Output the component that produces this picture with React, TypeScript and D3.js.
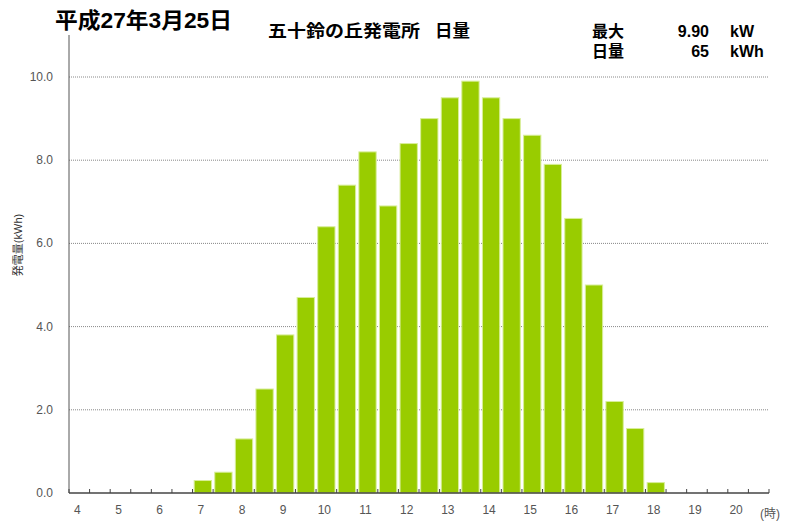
import React, { useEffect, useRef } from 'react';
import * as d3 from 'd3';

// half-hour slots from 4:00 to 20:30
const slots: number[] = d3.range(4, 21, 0.5);
const hourLabels: number[] = d3.range(4, 21);
// kW per half-hour slot (only slots with output)
const outputSlots: number[] = [7, 7.5, 8, 8.5, 9, 9.5, 10, 10.5, 11, 11.5, 12, 12.5, 13, 13.5, 14, 14.5, 15, 15.5, 16, 16.5, 17, 17.5, 18];
const outputValues: number[] = [0.3, 0.5, 1.3, 2.5, 3.8, 4.7, 6.4, 7.4, 8.2, 6.9, 8.4, 9.0, 9.5, 9.9, 9.5, 9.0, 8.6, 7.9, 6.6, 5.0, 2.2, 1.55, 0.25];
const yTicks: number[] = [0, 2, 4, 6, 8, 10];

const App = () => {
  const ref = useRef<SVGSVGElement>(null);

  useEffect(() => {
    const svg = d3.select(ref.current);
    svg.selectAll('*').remove();

    const left = 69, right = 769, top = 35, bottom = 493;
    const font = '"Liberation Sans", "Noto Sans CJK JP", sans-serif';

    const x = d3.scaleBand<number>().domain(slots).range([left, right]).paddingInner(0.16).paddingOuter(0.08);
    const xSlot = d3.scaleBand<number>().domain(slots).range([left, right]);
    const y = d3.scaleLinear().domain([0, 10]).range([bottom, 77]);

    // gridlines
    svg.append('g')
      .selectAll('line')
      .data(yTicks.filter(d => d > 0))
      .enter()
      .append('line')
      .attr('x1', left).attr('x2', right)
      .attr('y1', d => y(d)).attr('y2', d => y(d))
      .attr('stroke', '#888').attr('stroke-width', 1).attr('stroke-dasharray', '1,1');

    // y labels
    svg.append('g')
      .selectAll('text')
      .data(yTicks)
      .enter()
      .append('text')
      .attr('x', 53).attr('y', d => y(d) + 4)
      .attr('text-anchor', 'end')
      .attr('font-family', font).attr('font-size', 12).attr('fill', '#555')
      .text(d => d.toFixed(1));

    // bars
    const bars = outputSlots.map((s, i) => ({ s, v: outputValues[i] }));
    svg.append('g')
      .selectAll('rect')
      .data(bars)
      .enter()
      .append('rect')
      .attr('x', d => x(d.s)!)
      .attr('y', d => y(d.v))
      .attr('width', x.bandwidth())
      .attr('height', d => bottom - y(d.v))
      .attr('fill', '#99cc00')
      .attr('stroke', '#d8ee99').attr('stroke-width', 1);

    // axes
    svg.append('line').attr('x1', left).attr('x2', left).attr('y1', top).attr('y2', bottom)
      .attr('stroke', '#555').attr('stroke-width', 1);
    svg.append('line').attr('x1', left).attr('x2', right).attr('y1', bottom).attr('y2', bottom)
      .attr('stroke', '#444').attr('stroke-width', 1.5);

    // x ticks at slot boundaries, pointing up
    svg.append('g')
      .selectAll('line')
      .data(slots.concat([21]))
      .enter()
      .append('line')
      .attr('x1', d => d === 21 ? right : xSlot(d)!)
      .attr('x2', d => d === 21 ? right : xSlot(d)!)
      .attr('y1', bottom).attr('y2', bottom - 4)
      .attr('stroke', '#444');

    // hour labels
    svg.append('g')
      .selectAll('text')
      .data(hourLabels)
      .enter()
      .append('text')
      .attr('x', d => xSlot(d)! + xSlot.bandwidth() / 2 - 2)
      .attr('y', 514)
      .attr('text-anchor', 'middle')
      .attr('font-family', font).attr('font-size', 12).attr('fill', '#555')
      .text(d => String(d));

    svg.append('text').attr('x', 770).attr('y', 518).attr('text-anchor', 'middle')
      .attr('font-family', font).attr('font-size', 12).attr('fill', '#555').text('(時)');

    // y axis title
    svg.append('text')
      .attr('transform', 'translate(22,245) rotate(-90)')
      .attr('text-anchor', 'middle')
      .attr('font-family', font).attr('font-size', 11).attr('fill', '#333')
      .text('発電量(kWh)');

    // titles
    svg.append('text').attr('x', 55).attr('y', 28)
      .attr('font-family', font).attr('font-size', 22).attr('font-weight', 'bold').attr('fill', '#000')
      .attr('textLength', 177).attr('lengthAdjust', 'spacingAndGlyphs')
      .text('平成27年3月25日');
    svg.append('text').attr('x', 268).attr('y', 37)
      .attr('font-family', font).attr('font-size', 17).attr('font-weight', 'bold').attr('fill', '#000')
      .attr('textLength', 152).attr('lengthAdjust', 'spacingAndGlyphs')
      .text('五十鈴の丘発電所');
    svg.append('text').attr('x', 435).attr('y', 37)
      .attr('font-family', font).attr('font-size', 17).attr('font-weight', 'bold').attr('fill', '#000')
      .attr('textLength', 35).attr('lengthAdjust', 'spacingAndGlyphs')
      .text('日量');

    const stats = [
      { label: '最大', value: '9.90', unit: 'kW', y: 37 },
      { label: '日量', value: '65', unit: 'kWh', y: 57 },
    ];
    const g = svg.append('g').attr('font-family', font).attr('font-size', 16).attr('font-weight', 'bold').attr('fill', '#000');
    stats.forEach(s => {
      g.append('text').attr('x', 592).attr('y', s.y).text(s.label);
      g.append('text').attr('x', 709).attr('y', s.y).attr('text-anchor', 'end').text(s.value);
      g.append('text').attr('x', 730).attr('y', s.y).text(s.unit);
    });
  }, []);

  return (
    <svg ref={ref} width={800} height={529} style={{ position: 'absolute', left: 0, top: 0, background: '#fff' }} />
  );
};

export default App;
